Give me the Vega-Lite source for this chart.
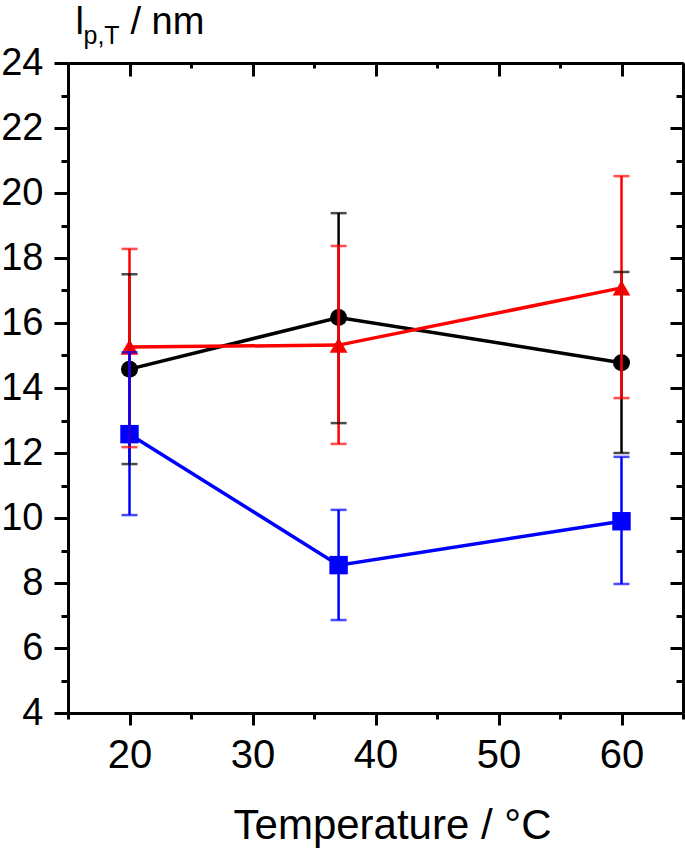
{
  "$schema": "https://vega.github.io/schema/vega-lite/v6.json",
  "width": 615,
  "height": 650,
  "autosize": {"type": "none"},
  "padding": {"left": 68, "top": 63, "right": 2, "bottom": 137},
  "background": "white",
  "config": {
    "view": {"stroke": null},
    "font": "Liberation Sans",
    "axis": {
      "domainColor": "black", "domainWidth": 3, "tickColor": "black", "tickWidth": 3,
      "labelColor": "black", "labelFont": "Liberation Sans", "labelFontSize": 39,
      "titleColor": "black", "titleFont": "Liberation Sans", "titleFontWeight": "normal",
      "grid": false, "labelFlush": false, "labelOverlap": false
    }
  },
  "data": {
    "values": [
      {"series": "A", "T": 20, "v": 14.58, "lo": 11.66, "hi": 17.5},
      {"series": "A", "T": 37, "v": 16.17, "lo": 12.92, "hi": 19.38},
      {"series": "A", "T": 60, "v": 14.78, "lo": 12.0, "hi": 17.57},
      {"series": "B", "T": 20, "v": 15.26, "lo": 12.18, "hi": 18.28},
      {"series": "B", "T": 37, "v": 15.32, "lo": 12.28, "hi": 18.37},
      {"series": "B", "T": 60, "v": 17.08, "lo": 13.69, "hi": 20.52},
      {"series": "C", "T": 20, "v": 12.58, "lo": 10.09, "hi": 15.1},
      {"series": "C", "T": 37, "v": 8.55, "lo": 6.86, "hi": 10.25},
      {"series": "C", "T": 60, "v": 9.9, "lo": 7.97, "hi": 11.88}
    ]
  },
  "resolve": {"axis": {"x": "independent", "y": "independent"}},
  "layer": [
    {
      "mark": {"type": "line", "strokeWidth": 3.5},
      "encoding": {
        "x": {"field": "T", "type": "quantitative", "scale": {"domain": [15, 65], "nice": false, "zero": false},
          "axis": {"orient": "bottom", "values": [20, 30, 40, 50, 60], "tickSize": 12, "labelPadding": 10, "labelFontSize": 40,
            "title": "Temperature / °C", "titleFontSize": 42, "titleX": 324, "titleY": 125, "titleAlign": "center", "titleBaseline": "alphabetic", "titleAnchor": null}},
        "y": {"field": "v", "type": "quantitative", "scale": {"domain": [4, 24], "nice": false, "zero": false},
          "axis": {"orient": "left", "values": [4, 6, 8, 10, 12, 14, 16, 18, 20, 22, 24], "tickSize": 14, "labelPadding": 11, "labelFontSize": 38,
            "title": "l", "titleFontSize": 38, "titleAngle": 0, "titleX": 7, "titleY": -30, "titleAlign": "left", "titleBaseline": "alphabetic", "titleAnchor": null}},
        "color": {"field": "series", "type": "nominal", "scale": {"domain": ["A", "B", "C"], "range": ["#000000", "#ff0000", "#0000ff"]}, "legend": null}
      }
    },
    {
      "mark": {"type": "point", "filled": true, "opacity": 1, "strokeWidth": 0},
      "encoding": {
        "x": {"field": "T", "type": "quantitative", "scale": {"domain": [15, 65], "nice": false, "zero": false},
          "axis": {"orient": "bottom", "values": [15, 25, 35, 45, 55, 65], "tickSize": 6, "labels": false, "title": null, "domain": false}},
        "y": {"field": "v", "type": "quantitative", "scale": {"domain": [4, 24], "nice": false, "zero": false},
          "axis": {"orient": "left", "values": [5, 7, 9, 11, 13, 15, 17, 19, 21, 23], "tickSize": 7, "labels": false, "domain": false,
            "title": "p,T", "titleFontSize": 25, "titleAngle": 0, "titleX": 15, "titleY": -20, "titleAlign": "left", "titleBaseline": "alphabetic", "titleAnchor": null}},
        "color": {"field": "series", "type": "nominal", "scale": {"domain": ["A", "B", "C"], "range": ["#000000", "#ff0000", "#0000ff"]}, "legend": null},
        "shape": {"field": "series", "type": "nominal", "scale": {"domain": ["A", "B", "C"], "range": ["circle", "triangle-up", "square"]}, "legend": null},
        "size": {"field": "series", "type": "nominal", "scale": {"domain": ["A", "B", "C"], "range": [290, 340, 245]}, "legend": null}
      }
    },
    {
      "mark": {"type": "rule", "strokeWidth": 2.5},
      "encoding": {
        "x": {"field": "T", "type": "quantitative", "scale": {"domain": [15, 65], "nice": false, "zero": false},
          "axis": {"orient": "top", "values": [20, 30, 40, 50, 60], "tickSize": -13, "labels": false, "title": null}},
        "y": {"field": "lo", "type": "quantitative", "scale": {"domain": [4, 24], "nice": false, "zero": false},
          "axis": {"orient": "right", "values": [4, 6, 8, 10, 12, 14, 16, 18, 20, 22, 24], "tickSize": -13, "labels": false,
            "title": "/ nm", "titleFontSize": 38, "titleAngle": 0, "titleX": -553, "titleY": -30, "titleAlign": "left", "titleBaseline": "alphabetic", "titleAnchor": null}},
        "y2": {"field": "hi"},
        "color": {"field": "series", "type": "nominal", "scale": {"domain": ["A", "B", "C"], "range": ["#000000", "#ff0000", "#0000ff"]}, "legend": null}
      }
    },
    {
      "mark": {"type": "tick", "orient": "horizontal", "size": 16, "thickness": 2.5},
      "encoding": {
        "x": {"field": "T", "type": "quantitative", "scale": {"domain": [15, 65], "nice": false, "zero": false},
          "axis": {"orient": "top", "values": [15, 25, 35, 45, 55, 65], "tickSize": -5, "labels": false, "title": null, "domain": false}},
        "y": {"field": "lo", "type": "quantitative", "scale": {"domain": [4, 24], "nice": false, "zero": false},
          "axis": {"orient": "right", "values": [5, 7, 9, 11, 13, 15, 17, 19, 21, 23], "tickSize": -7, "labels": false, "title": null, "domain": false}},
        "color": {"field": "series", "type": "nominal", "scale": {"domain": ["A", "B", "C"], "range": ["#000000", "#ff0000", "#0000ff"]}, "legend": null}
      }
    },
    {
      "mark": {"type": "tick", "orient": "horizontal", "size": 16, "thickness": 2.5},
      "encoding": {
        "x": {"field": "T", "type": "quantitative", "scale": {"domain": [15, 65], "nice": false, "zero": false}, "axis": null},
        "y": {"field": "hi", "type": "quantitative", "scale": {"domain": [4, 24], "nice": false, "zero": false}, "axis": null},
        "color": {"field": "series", "type": "nominal", "scale": {"domain": ["A", "B", "C"], "range": ["#000000", "#ff0000", "#0000ff"]}, "legend": null}
      }
    }
  ]
}
